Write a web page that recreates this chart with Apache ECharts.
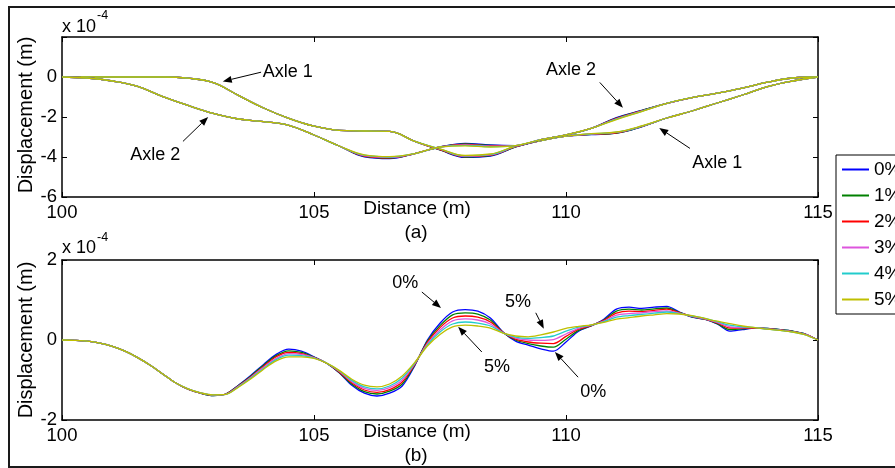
<!DOCTYPE html>
<html><head><meta charset="utf-8">
<script src="https://cdn.jsdelivr.net/npm/echarts@6/dist/echarts.min.js"></script>
<style>html,body{margin:0;padding:0;background:#fff}#c{width:895px;height:468px}</style>
</head><body><div id="c"></div>
<script>
// ---- data (displacement in units of 1e-4 m) ----
const distanceA = [100,100.5,101,101.5,102,102.5,103,103.5,104,104.5,105,105.5,106,106.5,107,107.5,108,108.5,109,109.5,110,110.5,111,111.5,112,112.5,113,113.5,114,114.5,115];
const distanceB = [100,100.25,100.5,100.75,101,101.25,101.5,101.75,102,102.25,102.5,102.75,103,103.25,103.5,103.75,104,104.25,104.5,104.75,105,105.25,105.5,105.75,106,106.25,106.5,106.75,107,107.25,107.5,107.75,108,108.25,108.5,108.75,109,109.25,109.5,109.75,110,110.25,110.5,110.75,111,111.25,111.5,111.75,112,112.25,112.5,112.75,113,113.25,113.5,113.75,114,114.25,114.5,114.75,115];
const seriesNames = ['0%','1%','2%','3%','4%','5%'];
const xTicks = [100,105,110,115];
const yTicksA = [-6,-4,-2,0];
const yTicksB = [-2,0,2];

// (a) Axle 1
const axle1_0 = [0,0,0,0,0,-0.06,-0.28,-0.92,-1.55,-2.07,-2.46,-2.67,-2.7,-2.72,-3.22,-3.65,-4.02,-3.95,-3.5,-3.18,-2.96,-2.88,-2.81,-2.49,-2.05,-1.7,-1.3,-0.9,-0.48,-0.2,0];
const axle1_1 = [0,0,0,0,0,-0.06,-0.28,-0.92,-1.55,-2.07,-2.46,-2.67,-2.7,-2.72,-3.22,-3.64,-4.0,-3.93,-3.49,-3.18,-2.96,-2.87,-2.80,-2.48,-2.05,-1.7,-1.3,-0.9,-0.48,-0.2,0];
const axle1_2 = [0,0,0,0,0,-0.06,-0.28,-0.92,-1.55,-2.07,-2.46,-2.67,-2.7,-2.72,-3.22,-3.63,-3.98,-3.91,-3.48,-3.18,-2.96,-2.86,-2.79,-2.47,-2.05,-1.7,-1.3,-0.9,-0.48,-0.2,0];
const axle1_3 = [0,0,0,0,0,-0.06,-0.28,-0.92,-1.55,-2.07,-2.46,-2.67,-2.7,-2.72,-3.22,-3.61,-3.96,-3.89,-3.47,-3.18,-2.96,-2.85,-2.77,-2.47,-2.05,-1.7,-1.3,-0.9,-0.48,-0.2,0];
const axle1_4 = [0,0,0,0,0,-0.06,-0.28,-0.92,-1.55,-2.07,-2.46,-2.67,-2.7,-2.72,-3.22,-3.60,-3.94,-3.87,-3.46,-3.18,-2.96,-2.84,-2.76,-2.46,-2.05,-1.7,-1.3,-0.9,-0.48,-0.2,0];
const axle1_5 = [0,0,0,0,0,-0.06,-0.28,-0.92,-1.55,-2.07,-2.46,-2.67,-2.7,-2.72,-3.22,-3.59,-3.92,-3.85,-3.45,-3.18,-2.96,-2.83,-2.75,-2.45,-2.05,-1.7,-1.3,-0.9,-0.48,-0.2,0];
// (a) Axle 2
const axle2_0 = [0,-0.05,-0.2,-0.47,-0.98,-1.42,-1.82,-2.1,-2.23,-2.42,-2.9,-3.45,-3.99,-4.08,-3.83,-3.5,-3.32,-3.40,-3.43,-3.13,-2.89,-2.57,-2.03,-1.67,-1.32,-1.03,-0.81,-0.56,-0.26,-0.05,0];
const axle2_1 = [0,-0.05,-0.2,-0.47,-0.98,-1.42,-1.82,-2.1,-2.23,-2.42,-2.9,-3.45,-3.97,-4.06,-3.83,-3.5,-3.34,-3.42,-3.43,-3.13,-2.89,-2.57,-2.05,-1.68,-1.32,-1.03,-0.81,-0.56,-0.26,-0.05,0];
const axle2_2 = [0,-0.05,-0.2,-0.47,-0.98,-1.42,-1.82,-2.1,-2.23,-2.42,-2.9,-3.45,-3.95,-4.04,-3.83,-3.5,-3.37,-3.44,-3.43,-3.13,-2.89,-2.57,-2.07,-1.69,-1.32,-1.03,-0.81,-0.56,-0.26,-0.05,0];
const axle2_3 = [0,-0.05,-0.2,-0.47,-0.98,-1.42,-1.82,-2.1,-2.23,-2.42,-2.9,-3.45,-3.93,-4.02,-3.83,-3.5,-3.39,-3.46,-3.43,-3.13,-2.89,-2.57,-2.09,-1.71,-1.32,-1.03,-0.81,-0.56,-0.26,-0.05,0];
const axle2_4 = [0,-0.05,-0.2,-0.47,-0.98,-1.42,-1.82,-2.1,-2.23,-2.42,-2.9,-3.45,-3.91,-4.00,-3.83,-3.5,-3.42,-3.48,-3.43,-3.13,-2.89,-2.57,-2.11,-1.72,-1.32,-1.03,-0.81,-0.56,-0.26,-0.05,0];
const axle2_5 = [0,-0.05,-0.2,-0.47,-0.98,-1.42,-1.82,-2.1,-2.23,-2.42,-2.9,-3.45,-3.89,-3.98,-3.83,-3.5,-3.44,-3.50,-3.43,-3.13,-2.89,-2.57,-2.13,-1.73,-1.32,-1.03,-0.81,-0.56,-0.26,-0.05,0];
// (b)
const b_0 = [0,-0.01,-0.03,-0.08,-0.16,-0.28,-0.44,-0.63,-0.85,-1.07, -1.23,-1.33,-1.39,-1.35,-1.13,-0.88,-0.61,-0.36,-0.23,-0.28, -0.42,-0.58,-0.82,-1.13,-1.33,-1.40,-1.33,-1.15,-0.64,0.0, 0.42,0.70,0.76,0.72,0.55,0.20,-0.03,-0.13,-0.22,-0.28, -0.05,0.22,0.35,0.52,0.77,0.82,0.79,0.82,0.84,0.70, 0.57,0.52,0.40,0.22,0.26,0.30,0.29,0.26,0.22,0.15, 0];
const b_1 = [0,-0.01,-0.03,-0.08,-0.16,-0.28,-0.44,-0.63,-0.85,-1.07, -1.23,-1.33,-1.39,-1.35,-1.14,-0.90,-0.63,-0.39,-0.27,-0.31, -0.43,-0.58,-0.81,-1.10,-1.29,-1.35,-1.28,-1.10,-0.62,-0.03, 0.36,0.63,0.68,0.65,0.50,0.19,0.00,-0.09,-0.15,-0.18, 0.02,0.24,0.36,0.50,0.72,0.77,0.75,0.78,0.80,0.69, 0.58,0.52,0.41,0.26,0.28,0.30,0.29,0.26,0.22,0.15, 0];
const b_2 = [0,-0.01,-0.03,-0.08,-0.16,-0.28,-0.44,-0.63,-0.85,-1.07, -1.23,-1.33,-1.38,-1.35,-1.15,-0.92,-0.66,-0.42,-0.31,-0.34, -0.44,-0.58,-0.80,-1.07,-1.25,-1.31,-1.24,-1.05,-0.61,-0.06, 0.31,0.55,0.60,0.57,0.45,0.19,0.02,-0.05,-0.08,-0.09, 0.09,0.27,0.36,0.49,0.67,0.72,0.71,0.74,0.77,0.68, 0.59,0.53,0.43,0.30,0.30,0.30,0.28,0.25,0.21,0.14, 0];
const b_3 = [0,-0.01,-0.03,-0.08,-0.16,-0.28,-0.44,-0.63,-0.85,-1.07, -1.22,-1.32,-1.38,-1.36,-1.16,-0.93,-0.68,-0.46,-0.34,-0.36, -0.44,-0.58,-0.78,-1.04,-1.21,-1.26,-1.19,-1.00,-0.59,-0.09, 0.25,0.48,0.53,0.50,0.40,0.18,0.05,0.00,-0.01,0.01, 0.15,0.29,0.37,0.47,0.62,0.66,0.68,0.71,0.73,0.67, 0.59,0.53,0.44,0.33,0.31,0.31,0.28,0.25,0.21,0.14, 0];
const b_4 = [0,-0.01,-0.03,-0.08,-0.16,-0.28,-0.44,-0.63,-0.85,-1.07, -1.22,-1.32,-1.37,-1.36,-1.17,-0.95,-0.71,-0.49,-0.38,-0.39, -0.45,-0.58,-0.77,-1.01,-1.17,-1.22,-1.15,-0.95,-0.58,-0.12, 0.20,0.40,0.45,0.42,0.35,0.18,0.07,0.04,0.06,0.10, 0.22,0.32,0.37,0.46,0.57,0.61,0.64,0.67,0.70,0.66, 0.60,0.54,0.46,0.37,0.33,0.31,0.27,0.24,0.20,0.13, 0];
const b_5 = [0,-0.01,-0.03,-0.08,-0.16,-0.28,-0.44,-0.63,-0.85,-1.07, -1.22,-1.32,-1.37,-1.36,-1.18,-0.97,-0.73,-0.52,-0.42,-0.42, -0.46,-0.58,-0.76,-0.98,-1.13,-1.17,-1.10,-0.90,-0.56,-0.15, 0.14,0.33,0.37,0.35,0.30,0.17,0.10,0.08,0.13,0.20, 0.29,0.34,0.38,0.44,0.52,0.56,0.60,0.63,0.66,0.65, 0.61,0.54,0.47,0.41,0.35,0.31,0.27,0.24,0.20,0.13, 0];

// annotation anchors in data coordinates
const notesA = [
  {text:'Axle 1', at:[104.48,0.24], tail:[103.95,0.24], head:[103.19,-0.22]},
  {text:'Axle 2', at:[101.85,-3.92], tail:[102.40,-3.22], head:[102.90,-2.0]},
  {text:'Axle 2', at:[110.10,0.34], tail:[110.67,-0.27], head:[111.13,-1.54]},
  {text:'Axle 1', at:[113.0,-4.28], tail:[112.46,-3.57], head:[111.85,-2.55]}
];
const notesB = [
  {text:'0%', at:[106.81,1.43], tail:[107.14,1.2], head:[107.52,0.8]},
  {text:'5%', at:[108.63,-0.68], tail:[108.33,-0.3], head:[107.86,0.33]},
  {text:'5%', at:[109.05,0.95], tail:[109.40,0.68], head:[109.56,0.28]},
  {text:'0%', at:[110.54,-1.3], tail:[110.24,-0.93], head:[109.78,-0.3]}
];

const axle1 = [axle1_0,axle1_1,axle1_2,axle1_3,axle1_4,axle1_5];
const axle2 = [axle2_0,axle2_1,axle2_2,axle2_3,axle2_4,axle2_5];
const bSet = [b_0,b_1,b_2,b_3,b_4,b_5];
const colors = ['#0000FF','#008000','#FF0000','#DD55DD','#22CCCC','#BFBF00'];
const FONT = '"Liberation Sans", Arial, sans-serif';

function pairs(xs, ys){ return xs.map((d,i)=>[d, ys[i]]); }

const chart = echarts.init(document.getElementById('c'), null, {renderer:'canvas'});
const tick = {show:true, inside:true, length:5, lineStyle:{color:'#000', width:1}};
const line = {show:true, onZero:false, lineStyle:{color:'#000', width:1.5}};
function xAx(grid, pos, labels){
  return {type:'value', gridIndex:grid, position:pos, min:xTicks[0], max:xTicks[xTicks.length-1], interval:xTicks[1]-xTicks[0],
    axisLine:line, axisTick:tick, splitLine:{show:false},
    axisLabel:{show:labels, color:'#000', fontSize:18.5, fontFamily:FONT, margin:6, showMinLabel:true, showMaxLabel:true}};
}
function yAx(grid, pos, ticks, max, labels){
  return {type:'value', gridIndex:grid, position:pos, min:ticks[0], max:max, interval:ticks[1]-ticks[0],
    axisLine:line, axisTick:tick, splitLine:{show:false},
    axisLabel:{show:labels, color:'#000', fontSize:18.5, fontFamily:FONT, margin:5, showMinLabel:true, showMaxLabel:true,
      formatter: v => ticks.indexOf(v) >= 0 ? String(v) : ''}};
}

const series = [];
function addSet(set, xs, xi, yi, sm){
  set.forEach((ys,k)=>{
    series.push({type:'line', name:seriesNames[k], xAxisIndex:xi, yAxisIndex:yi, data:pairs(xs, ys),
      smooth:sm, symbol:'none', showSymbol:false, color:colors[k],
      lineStyle:{color:colors[k], width:1.3}, itemStyle:{color:colors[k]}, animation:false});
  });
}
addSet(axle1,distanceA,0,0,0.4); addSet(axle2,distanceA,0,0,0.4); addSet(bSet,distanceB,2,2,0.3);

chart.setOption({
  backgroundColor:'#fff',
  animation:false,
  grid:[{left:62, top:37, width:756, height:160},{left:62, top:260, width:756, height:160}],
  xAxis:[xAx(0,'bottom',true), xAx(0,'top',false), xAx(1,'bottom',true), xAx(1,'top',false)],
  yAxis:[yAx(0,'left',yTicksA,2,true), yAx(0,'right',yTicksA,2,false), yAx(1,'left',yTicksB,2,true), yAx(1,'right',yTicksB,2,false)],
  legend:{data:seriesNames, orient:'vertical', left:836, top:155, icon:'rect', itemWidth:27, itemHeight:2, itemGap:7,
    padding:[5,40,5,6], borderColor:'#000', borderWidth:1, backgroundColor:'#fff',
    textStyle:{color:'#000', fontSize:19, fontFamily:FONT}},
  series:series
});

// annotations & labels
const g = [];
function txt(x,y,text,size,rot){
  g.push({type:'text', x:x, y:y, rotation:rot||0, z:100,
    style:{text:text, fill:'#000', font:size+'px '+FONT, align:'center', verticalAlign:'middle'}});
}
g.push({type:'rect', shape:{x:9,y:7,width:900,height:460}, style:{fill:'none', stroke:'#1a1a1a', lineWidth:2}, z:50});
txt(26,115,'Displacement (m)',20,Math.PI/2);
txt(26,340,'Displacement (m)',20,Math.PI/2);
txt(417,209,'Distance (m)',19); txt(416,233,'(a)',19);
txt(417,432,'Distance (m)',19); txt(416,456,'(b)',19);
g.push({type:'text', x:62, y:27, z:100, style:{text:'x 10', fill:'#000', font:'18px '+FONT, align:'left', verticalAlign:'middle'}});
g.push({type:'text', x:97, y:16, z:100, style:{text:'-4', fill:'#000', font:'12.5px '+FONT, align:'left', verticalAlign:'middle'}});
g.push({type:'text', x:62, y:248, z:100, style:{text:'x 10', fill:'#000', font:'18px '+FONT, align:'left', verticalAlign:'middle'}});
g.push({type:'text', x:97, y:238, z:100, style:{text:'-4', fill:'#000', font:'12.5px '+FONT, align:'left', verticalAlign:'middle'}});

function note(n, gi){
  const p = chart.convertToPixel({gridIndex:gi}, n.at);
  const t = chart.convertToPixel({gridIndex:gi}, n.tail);
  const h = chart.convertToPixel({gridIndex:gi}, n.head);
  txt(p[0], p[1], n.text, 18);
  const dx = h[0]-t[0], dy = h[1]-t[1], L = Math.hypot(dx,dy), ux = dx/L, uy = dy/L;
  const al = 9, aw = 3.5;
  const bx = h[0]-ux*al, by = h[1]-uy*al;
  g.push({type:'line', z:100, shape:{x1:t[0], y1:t[1], x2:bx, y2:by}, style:{stroke:'#000', lineWidth:1}});
  g.push({type:'polygon', z:100, shape:{points:[[h[0],h[1]],[bx-uy*aw, by+ux*aw],[bx+uy*aw, by-ux*aw]]}, style:{fill:'#000'}});
}
notesA.forEach(n=>note(n,0));
notesB.forEach(n=>note(n,1));
chart.setOption({graphic:g});
</script></body></html>
